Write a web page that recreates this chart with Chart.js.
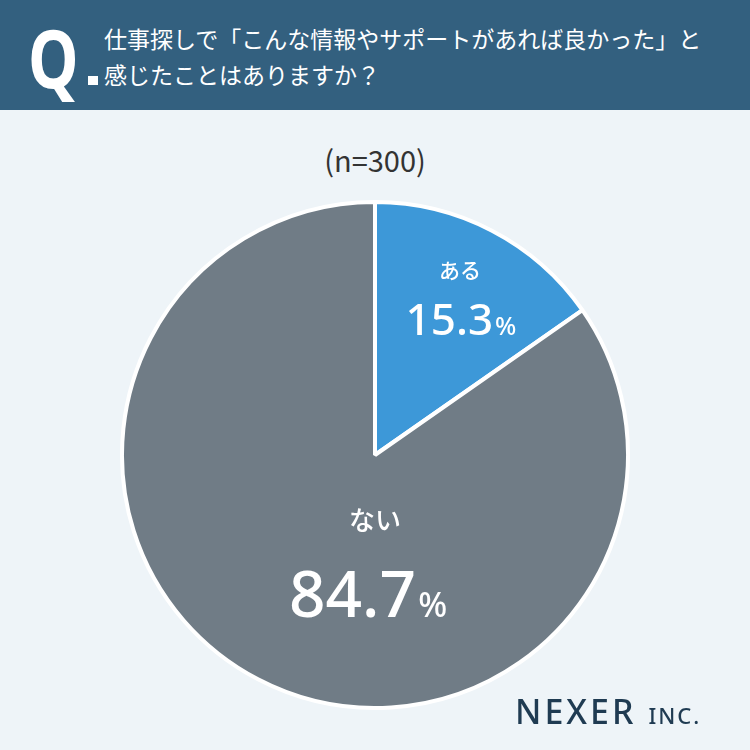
<!DOCTYPE html>
<html><head><meta charset="utf-8">
<script src="https://cdn.jsdelivr.net/npm/chart.js@4"></script>
<style>
body{margin:0;width:750px;height:750px;background:#eef4f8;font-family:"Noto Sans CJK JP","Noto Sans",sans-serif;position:relative;overflow:hidden}
#hd{position:absolute;left:0;top:0;width:750px;height:110px;background:#33607f;color:#fff}
#q{position:absolute;left:28px;top:2px;font:bold 80px "Noto Sans",sans-serif;transform:scaleX(0.8);transform-origin:left}
#dot{position:absolute;left:88px;top:76px;width:10px;height:9px;background:#fff}
#t{position:absolute;left:104px;top:20px;font-size:23px;line-height:36px}
#n{position:absolute;left:0;width:750px;top:138px;text-align:center;font-size:29px;color:#333}
#wrap{position:absolute;left:115px;top:195px;width:520px;height:520px}
#logo{position:absolute;left:515px;top:688px;color:#1f3b52;font:500 34px "Noto Sans",sans-serif;letter-spacing:3px}
#logo span{font-size:22px;letter-spacing:2px}
</style></head><body>
<div id="hd"><div id="q">Q</div><div id="dot"></div><div id="t">仕事探しで「こんな情報やサポートがあれば良かった」と<br>感じたことはありますか？</div></div>
<div id="n">(n=300)</div>
<div id="wrap"><canvas id="c"></canvas></div>
<div id="logo">NEXER <span>INC.</span></div>
<script>
const categories = ['ある', 'ない'];
const values = [15.3, 84.7];
const colors = ['#3d98d8', '#707c86'];
const labelOffsets = [[85, -185, 85, -135], [0, 65, -8, 140]];

const labelPlugin = {
  id: 'labels',
  afterDatasetsDraw(chart) {
    const ctx = chart.ctx;
    const arc = chart.getDatasetMeta(0).data[0];
    const cx = arc.x, cy = arc.y;
    ctx.save();
    ctx.fillStyle = '#fff';
    categories.forEach((name, i) => {
      const o = labelOffsets[i];
      const big = i === 1;
      ctx.textAlign = 'center';
      ctx.textBaseline = 'middle';
      ctx.font = '500 ' + (big ? '26px' : '21px') + ' "Noto Sans CJK JP"';
      ctx.fillText(name, cx + o[0], cy + o[1]);
      const num = values[i].toFixed(1);
      const nf = '500 ' + (big ? '64px' : '44px') + ' "Noto Sans"';
      const pf = '500 ' + (big ? '34px' : '25px') + ' "Noto Sans"';
      ctx.font = nf;
      const w1 = ctx.measureText(num).width;
      ctx.font = pf;
      const w2 = ctx.measureText('%').width;
      const x0 = cx + o[2] - (w1 + w2) / 2;
      const base = cy + o[3] + (big ? 22 : 15);
      ctx.textAlign = 'left';
      ctx.textBaseline = 'alphabetic';
      ctx.font = nf;
      ctx.fillText(num, x0, base);
      ctx.font = pf;
      ctx.fillText('%', x0 + w1 + 2, base);
    });
    ctx.restore();
  }
};

new Chart(document.getElementById('c'), {
  type: 'pie',
  data: { labels: categories, datasets: [{ data: values, backgroundColor: colors, borderColor: '#fff', borderWidth: 4, radius: 253 }] },
  options: { responsive: true, maintainAspectRatio: false, animation: false, plugins: { legend: { display: false }, tooltip: { enabled: false } } },
  plugins: [labelPlugin]
});
</script>
</body></html>
